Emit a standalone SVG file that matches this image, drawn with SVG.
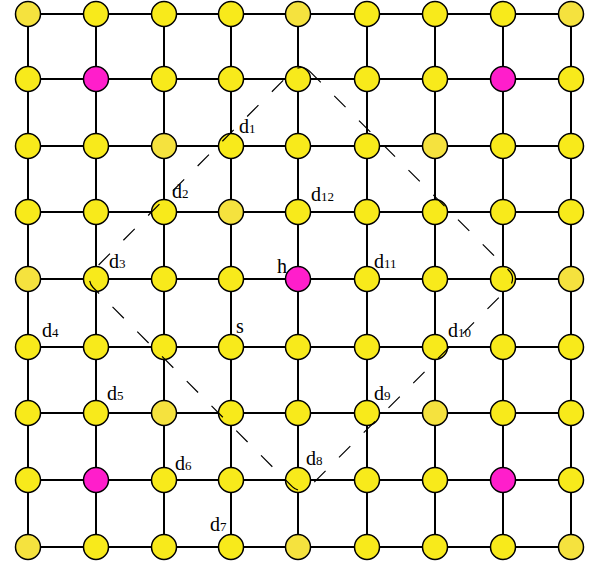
<svg xmlns="http://www.w3.org/2000/svg" width="596" height="567" viewBox="0 0 596 567">
<style>
.e{stroke:#000;stroke-width:2;fill:none}
circle{stroke:#000;stroke-width:1.5}
.y{fill:#F8EA1B}
.l{fill:#F5E23E}
.m{fill:#FF1ECB}
.d{fill:none;stroke:#000;stroke-width:1.2;stroke-dasharray:16 19}
text{font-family:"Liberation Serif","Times New Roman",serif;font-size:20px;fill:#000}
.s{font-size:13px}
</style>
<rect width="596" height="567" fill="#fff"/>
<g id="connectors">
<path class="e" d="M28 14H571M28 79H571M28 146H571M28 212H571M28 279H571M28 347H571M28 413H571M28 480H571M28 547H571M28 14V547M96 14V547M164 14V547M231 14V547M298 14V547M367 14V547M435 14V547M503 14V547M571 14V547"/>
</g>
<g id="nodes">
<g id="n0_0"><circle class="l" cx="28" cy="14" r="12.5"/></g>
<g id="n0_1"><circle class="y" cx="96" cy="14" r="12.5"/></g>
<g id="n0_2"><circle class="y" cx="164" cy="14" r="12.5"/></g>
<g id="n0_3"><circle class="y" cx="231" cy="14" r="12.5"/></g>
<g id="n0_4"><circle class="l" cx="298" cy="14" r="12.5"/></g>
<g id="n0_5"><circle class="y" cx="367" cy="14" r="12.5"/></g>
<g id="n0_6"><circle class="y" cx="435" cy="14" r="12.5"/></g>
<g id="n0_7"><circle class="y" cx="503" cy="14" r="12.5"/></g>
<g id="n0_8"><circle class="l" cx="571" cy="14" r="12.5"/></g>
<g id="n1_0"><circle class="y" cx="28" cy="79" r="12.5"/></g>
<g id="n1_1"><circle class="m" cx="96" cy="79" r="12.5"/></g>
<g id="n1_2"><circle class="y" cx="164" cy="79" r="12.5"/></g>
<g id="n1_3"><circle class="y" cx="231" cy="79" r="12.5"/></g>
<g id="n1_4"><circle class="y" cx="298" cy="79" r="12.5"/></g>
<g id="n1_5"><circle class="y" cx="367" cy="79" r="12.5"/></g>
<g id="n1_6"><circle class="y" cx="435" cy="79" r="12.5"/></g>
<g id="n1_7"><circle class="m" cx="503" cy="79" r="12.5"/></g>
<g id="n1_8"><circle class="y" cx="571" cy="79" r="12.5"/></g>
<g id="n2_0"><circle class="y" cx="28" cy="146" r="12.5"/></g>
<g id="n2_1"><circle class="y" cx="96" cy="146" r="12.5"/></g>
<g id="n2_2"><circle class="l" cx="164" cy="146" r="12.5"/></g>
<g id="n2_3"><circle class="y" cx="231" cy="146" r="12.5"/></g>
<g id="n2_4"><circle class="y" cx="298" cy="146" r="12.5"/></g>
<g id="n2_5"><circle class="y" cx="367" cy="146" r="12.5"/></g>
<g id="n2_6"><circle class="l" cx="435" cy="146" r="12.5"/></g>
<g id="n2_7"><circle class="y" cx="503" cy="146" r="12.5"/></g>
<g id="n2_8"><circle class="y" cx="571" cy="146" r="12.5"/></g>
<g id="n3_0"><circle class="y" cx="28" cy="212" r="12.5"/></g>
<g id="n3_1"><circle class="y" cx="96" cy="212" r="12.5"/></g>
<g id="n3_2"><circle class="y" cx="164" cy="212" r="12.5"/></g>
<g id="n3_3"><circle class="l" cx="231" cy="212" r="12.5"/></g>
<g id="n3_4"><circle class="y" cx="298" cy="212" r="12.5"/></g>
<g id="n3_5"><circle class="y" cx="367" cy="212" r="12.5"/></g>
<g id="n3_6"><circle class="y" cx="435" cy="212" r="12.5"/></g>
<g id="n3_7"><circle class="y" cx="503" cy="212" r="12.5"/></g>
<g id="n3_8"><circle class="y" cx="571" cy="212" r="12.5"/></g>
<g id="n4_0"><circle class="l" cx="28" cy="279" r="12.5"/></g>
<g id="n4_1"><circle class="y" cx="96" cy="279" r="12.5"/></g>
<g id="n4_2"><circle class="y" cx="164" cy="279" r="12.5"/></g>
<g id="n4_3"><circle class="y" cx="231" cy="279" r="12.5"/></g>
<g id="n4_4"><circle class="m" cx="298" cy="279" r="12.5"/></g>
<g id="n4_5"><circle class="y" cx="367" cy="279" r="12.5"/></g>
<g id="n4_6"><circle class="y" cx="435" cy="279" r="12.5"/></g>
<g id="n4_7"><circle class="y" cx="503" cy="279" r="12.5"/></g>
<g id="n4_8"><circle class="l" cx="571" cy="279" r="12.5"/></g>
<g id="n5_0"><circle class="y" cx="28" cy="347" r="12.5"/></g>
<g id="n5_1"><circle class="y" cx="96" cy="347" r="12.5"/></g>
<g id="n5_2"><circle class="y" cx="164" cy="347" r="12.5"/></g>
<g id="n5_3"><circle class="y" cx="231" cy="347" r="12.5"/></g>
<g id="n5_4"><circle class="y" cx="298" cy="347" r="12.5"/></g>
<g id="n5_5"><circle class="y" cx="367" cy="347" r="12.5"/></g>
<g id="n5_6"><circle class="y" cx="435" cy="347" r="12.5"/></g>
<g id="n5_7"><circle class="y" cx="503" cy="347" r="12.5"/></g>
<g id="n5_8"><circle class="y" cx="571" cy="347" r="12.5"/></g>
<g id="n6_0"><circle class="y" cx="28" cy="413" r="12.5"/></g>
<g id="n6_1"><circle class="y" cx="96" cy="413" r="12.5"/></g>
<g id="n6_2"><circle class="l" cx="164" cy="413" r="12.5"/></g>
<g id="n6_3"><circle class="y" cx="231" cy="413" r="12.5"/></g>
<g id="n6_4"><circle class="y" cx="298" cy="413" r="12.5"/></g>
<g id="n6_5"><circle class="y" cx="367" cy="413" r="12.5"/></g>
<g id="n6_6"><circle class="l" cx="435" cy="413" r="12.5"/></g>
<g id="n6_7"><circle class="y" cx="503" cy="413" r="12.5"/></g>
<g id="n6_8"><circle class="y" cx="571" cy="413" r="12.5"/></g>
<g id="n7_0"><circle class="y" cx="28" cy="480" r="12.5"/></g>
<g id="n7_1"><circle class="m" cx="96" cy="480" r="12.5"/></g>
<g id="n7_2"><circle class="y" cx="164" cy="480" r="12.5"/></g>
<g id="n7_3"><circle class="y" cx="231" cy="480" r="12.5"/></g>
<g id="n7_4"><circle class="y" cx="298" cy="480" r="12.5"/></g>
<g id="n7_5"><circle class="y" cx="367" cy="480" r="12.5"/></g>
<g id="n7_6"><circle class="y" cx="435" cy="480" r="12.5"/></g>
<g id="n7_7"><circle class="m" cx="503" cy="480" r="12.5"/></g>
<g id="n7_8"><circle class="y" cx="571" cy="480" r="12.5"/></g>
<g id="n8_0"><circle class="l" cx="28" cy="547" r="12.5"/></g>
<g id="n8_1"><circle class="y" cx="96" cy="547" r="12.5"/></g>
<g id="n8_2"><circle class="y" cx="164" cy="547" r="12.5"/></g>
<g id="n8_3"><circle class="y" cx="231" cy="547" r="12.5"/></g>
<g id="n8_4"><circle class="l" cx="298" cy="547" r="12.5"/></g>
<g id="n8_5"><circle class="y" cx="367" cy="547" r="12.5"/></g>
<g id="n8_6"><circle class="y" cx="435" cy="547" r="12.5"/></g>
<g id="n8_7"><circle class="y" cx="503" cy="547" r="12.5"/></g>
<g id="n8_8"><circle class="l" cx="571" cy="547" r="12.5"/></g>
</g>
<g id="region">
<rect class="d" x="-153" y="-153" width="306" height="306" rx="12" transform="translate(301 279) rotate(45)"/>
</g>
<g id="labels">
<text x="239" y="133">d<tspan class="s">1</tspan></text>
<text x="172" y="198">d<tspan class="s">2</tspan></text>
<text x="109" y="268">d<tspan class="s">3</tspan></text>
<text x="42" y="337">d<tspan class="s">4</tspan></text>
<text x="107" y="400">d<tspan class="s">5</tspan></text>
<text x="175" y="470">d<tspan class="s">6</tspan></text>
<text x="210" y="531">d<tspan class="s">7</tspan></text>
<text x="306" y="465">d<tspan class="s">8</tspan></text>
<text x="374" y="400">d<tspan class="s">9</tspan></text>
<text x="448" y="337">d<tspan class="s">10</tspan></text>
<text x="374" y="268">d<tspan class="s">11</tspan></text>
<text x="311" y="201">d<tspan class="s">12</tspan></text>
<text x="277" y="273">h</text>
<text x="236" y="333">s</text>
</g>
</svg>
